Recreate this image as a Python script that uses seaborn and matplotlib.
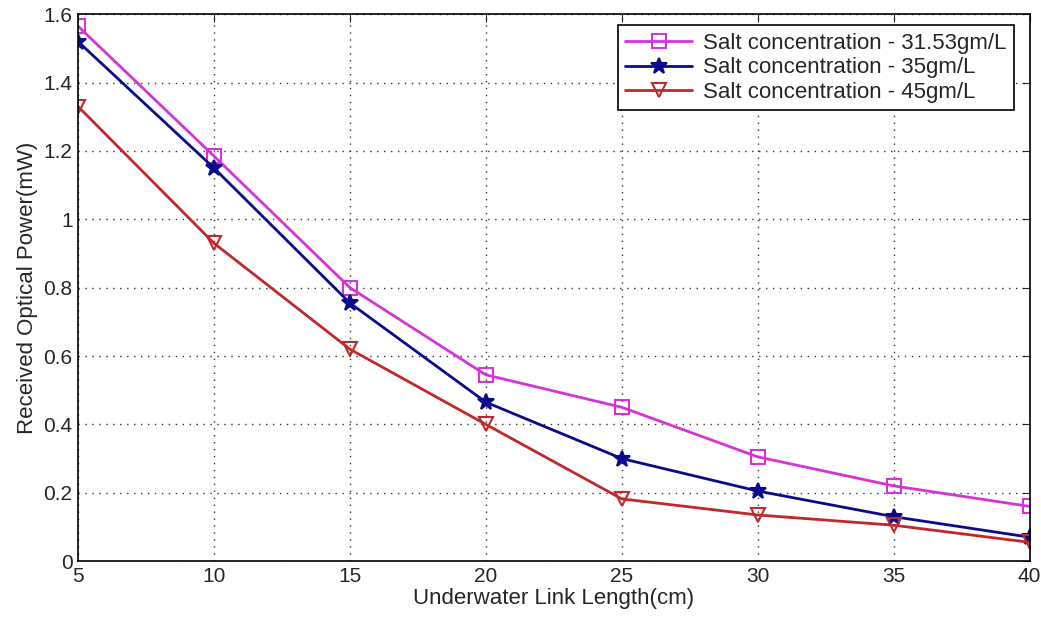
import matplotlib
matplotlib.use("Agg")
import matplotlib.pyplot as plt
import seaborn as sns
import pandas as pd

link_length = [5, 10, 15, 20, 25, 30, 35, 40]
salt_3153 = [1.565, 1.185, 0.800, 0.545, 0.450, 0.305, 0.220, 0.160]
salt_35 = [1.520, 1.150, 0.755, 0.465, 0.300, 0.205, 0.130, 0.070]
salt_45 = [1.330, 0.930, 0.620, 0.400, 0.182, 0.135, 0.105, 0.055]
labels = ["Salt concentration - 31.53gm/L",
          "Salt concentration - 35gm/L",
          "Salt concentration - 45gm/L"]
colors = ["#d633d6", "#0a0a8c", "#c0282a"]
markers = ["s", "*", "v"]

sns.set_style("white")
plt.rcParams['font.family'] = ['Liberation Sans', 'DejaVu Sans']

df = pd.DataFrame({
    "x": link_length * 3,
    "y": salt_3153 + salt_35 + salt_45,
    "series": [labels[0]] * 8 + [labels[1]] * 8 + [labels[2]] * 8,
})

fig = plt.figure(figsize=(10.41, 6.2), dpi=100)
ax = fig.add_axes([0.075, 0.095, 0.914, 0.882])

for lab, c, m in zip(labels, colors, markers):
    sub = df[df["series"] == lab]
    filled = (m == "*")
    sns.lineplot(data=sub, x="x", y="y", ax=ax, color=c, marker=m,
                 markersize=12 if filled else 10,
                 markerfacecolor=c if filled else "none",
                 markeredgecolor=c, markeredgewidth=1.5, linewidth=2, label=lab)

ax.set_xlim(5, 40)
ax.set_ylim(0, 1.6)
ax.set_xticks(link_length)
ax.set_yticks([0, 0.2, 0.4, 0.6, 0.8, 1.0, 1.2, 1.4, 1.6])
ax.set_yticklabels(["0", "0.2", "0.4", "0.6", "0.8", "1", "1.2", "1.4", "1.6"])
ax.tick_params(direction="in", length=6, labelsize=15, top=True, right=True, pad=4)
ax.grid(True, linestyle=(0, (1, 4)), color="#333333", linewidth=1)
for s in ax.spines.values():
    s.set_color("black")
    s.set_linewidth(1.2)
ax.set_xlabel("Underwater Link Length(cm)", fontsize=16, labelpad=2)
ax.set_ylabel("Received Optical Power(mW)", fontsize=16, labelpad=4)

leg = ax.legend(loc="upper right", bbox_to_anchor=(0.984, 0.98), borderaxespad=0,
                fontsize=16, frameon=True, fancybox=False, edgecolor="black",
                framealpha=1, handlelength=3, borderpad=0.35, labelspacing=0.15,
                handletextpad=0.5)
leg.get_frame().set_linewidth(1.2)

fig.savefig("out.png", dpi=100)
